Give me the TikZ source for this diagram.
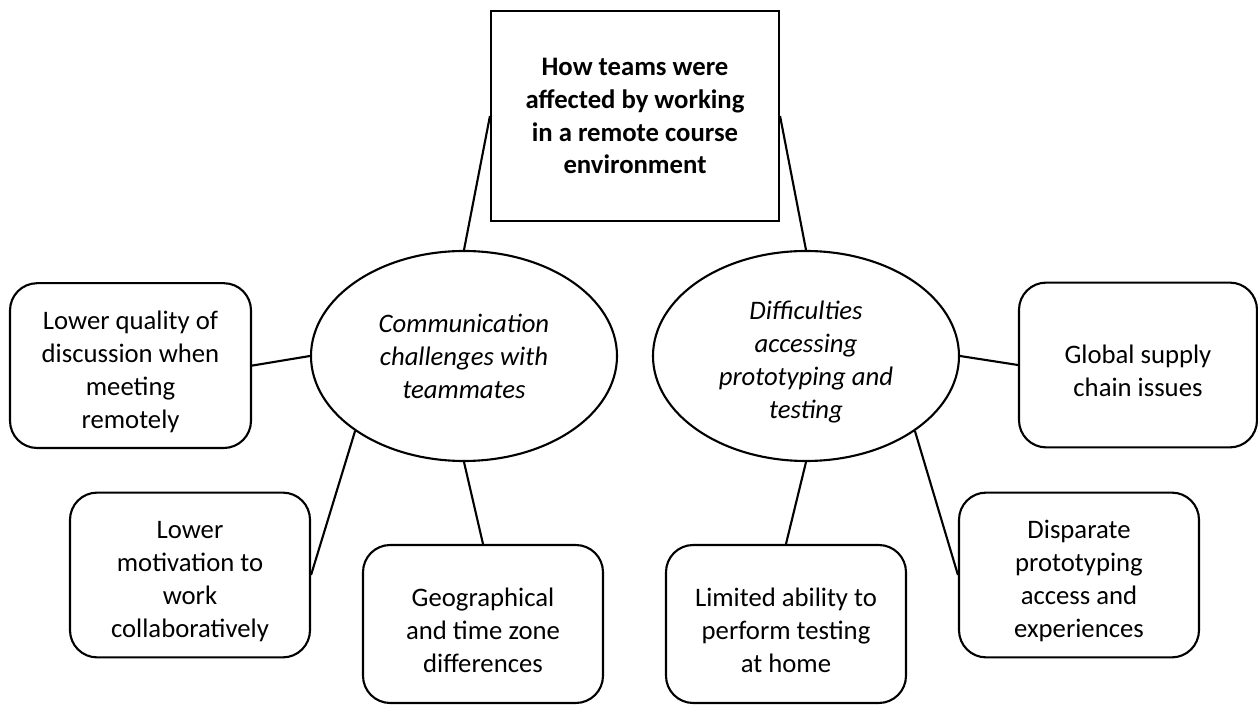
\documentclass[tikz,border=0pt]{standalone}
\usepackage{fontspec}
\setmainfont{Carlito}
\usetikzlibrary{shapes.geometric}

\newcommand{\lift}{\rule{0pt}{22pt}}

\begin{document}
\begin{tikzpicture}
[	
	topic/.style={rectangle,draw,line width=1.5pt,minimum height=5.25cm,minimum width=7.2cm,align=center,font=\bfseries\fontsize{19}{23.4}\selectfont},
	theme/.style={ellipse,draw,line width=1.5pt,inner sep=0pt,minimum height=5.25cm,minimum width=7.65cm,align=center,font=\itshape\fontsize{19}{23.4}\selectfont},
	code/.style={rectangle,rounded corners=0.68cm,draw,line width=1.5pt,minimum height=4.12cm,minimum width=6cm,align=center,font=\fontsize{19}{23.4}\selectfont}
]

\useasboundingbox (0,0) rectangle (31.45,-17.65);

\node[topic] (top) at (15.875,-2.9) {How teams were\\affected by working\\in a remote course\\environment};

\node[theme] (comm) at (11.6,-8.9) {Communication\\challenges with\\teammates};
\node[theme] (diff) at (20.15,-8.9) {\lift Difficulties\\accessing\\prototyping and\\testing};

\node[code,minimum width=6.025cm] (lq) at (3.2625,-9.14) {\lift Lower quality of\\discussion when\\meeting\\remotely};
\node[code] (lm) at (4.75,-14.375) {\lift Lower\\motivation to\\work\\collaboratively};
\node[code,minimum height=3.95cm] (geo) at (12.075,-15.6) {\lift Geographical\\and time zone\\differences};

\node[code,minimum height=3.95cm] (lim) at (19.65,-15.6) {\lift Limited ability to\\perform testing\\at home};
\node[code] (disp) at (26.975,-14.375) {\lift Disparate\\prototyping\\access and\\experiences};
\node[code,minimum width=5.95cm] (glob) at (28.45,-9.125) {\lift Global supply\\chain issues};


\draw[line width=1.5pt]	(top.west)	-- 	(comm.north);
\draw[line width=1.5pt]	(top.east)	-- 	(diff.north);

\draw[line width=1.5pt]	(comm.west)		-- 	(lq.east);
\draw[line width=1.5pt]	(comm.south west)	-- 	(lm.east);
\draw[line width=1.5pt]	(comm.south)		-- 	(geo.north);

\draw[line width=1.5pt]	(diff.south)		-- 	(lim.north);
\draw[line width=1.5pt]	(diff.south east)	-- 	(disp.west);
\draw[line width=1.5pt]	(diff.east)		-- 	(glob.west);

\end{tikzpicture}
\end{document}
